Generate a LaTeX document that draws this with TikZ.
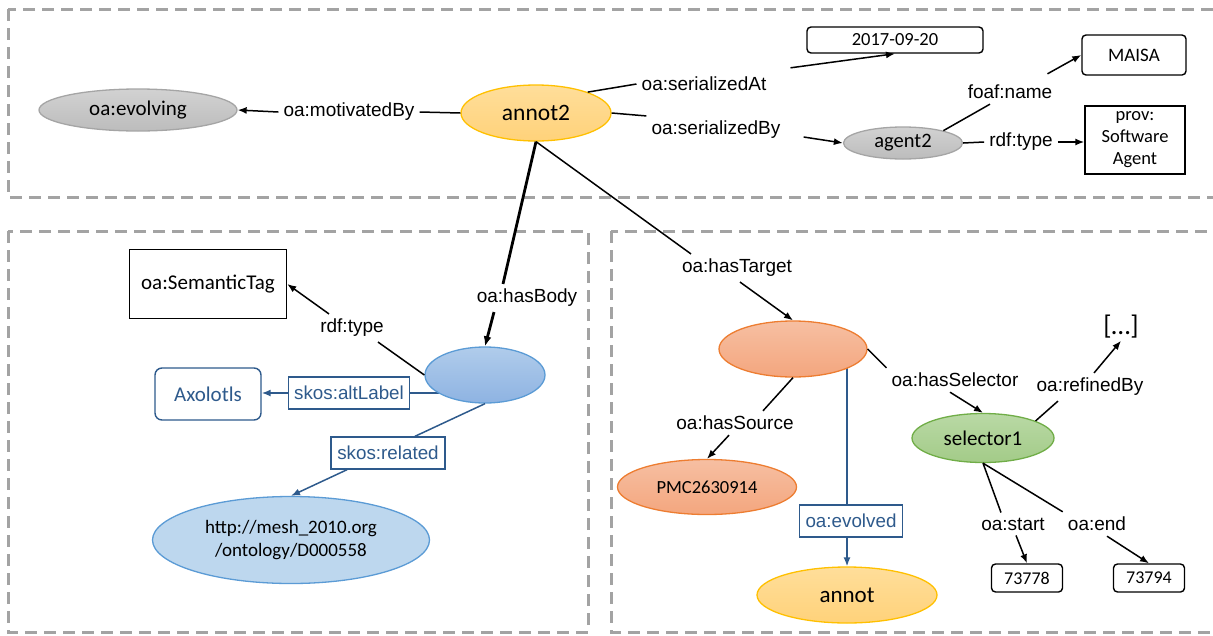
\documentclass[tikz,border=0pt]{standalone}
\usepackage{fontspec}
\setmainfont{Carlito}
\newfontfamily\arialf{Liberation Sans}
\usetikzlibrary{shapes.geometric,arrows.meta}
\pgfdeclarelayer{bg}
\pgfsetlayers{bg,main}
\newcommand\myfs[1]{\fontsize{#1}{#1}\selectfont}
\definecolor{dashgray}{HTML}{A3A3A3}
\definecolor{gtop}{HTML}{D2D2D2}
\definecolor{gbot}{HTML}{BCBCBC}
\definecolor{gborder}{HTML}{A5A5A5}
\definecolor{ytop}{HTML}{FFDE9A}
\definecolor{ybot}{HTML}{FFD27A}
\definecolor{yborder}{HTML}{FFC000}
\definecolor{stop}{HTML}{F6BFA2}
\definecolor{sbot}{HTML}{F4A67E}
\definecolor{sborder}{HTML}{ED7D31}
\definecolor{grtop}{HTML}{B9D9A5}
\definecolor{grbot}{HTML}{A3CB88}
\definecolor{grborder}{HTML}{70AD47}
\definecolor{btop}{HTML}{B0CCEB}
\definecolor{bbot}{HTML}{8EB3E2}
\definecolor{bborder}{HTML}{5B9BD5}
\definecolor{lblue}{HTML}{BDD7EE}
\definecolor{bdark}{HTML}{2E5A8C}
\begin{document}
\begin{tikzpicture}[x=1pt,y=-1pt,
  every node/.style={inner sep=0pt, text=black},
  ell/.style={ellipse, line width=1.3pt},
  grayell/.style={ell, draw=gborder, top color=gtop, bottom color=gbot},
  yell/.style={ell, draw=yborder, top color=ytop, bottom color=ybot},
  sell/.style={ell, draw=sborder, top color=stop, bottom color=sbot},
  grell/.style={ell, draw=grborder, top color=grtop, bottom color=grbot},
  bell/.style={ell, draw=bborder, top color=btop, bottom color=bbot},
  rbox/.style={draw, rectangle, rounded corners=4pt, line width=1.4pt, fill=white},
  sbox/.style={draw, rectangle, line width=1.4pt, fill=white},
  blbl/.style={draw=bdark, rectangle, line width=1.4pt, fill=white, text=bdark, font=\arialf\myfs{18.8}},
  lbl/.style={font=\arialf\myfs{19}, inner sep=5pt},
  conn/.style={line width=1.5pt, draw=black},
  arr/.style={conn, -{Latex[length=9pt,width=7pt]}},
  thickc/.style={line width=2.8pt, draw=black},
  thickarr/.style={thickc, -{Latex[length=10pt,width=8pt]}},
  blueline/.style={line width=1.5pt, draw=bdark},
  bluearr/.style={blueline, -{Latex[length=9pt,width=7pt]}},
  dbox/.style={draw=dashgray, line width=3pt, dash pattern=on 12pt off 7pt}
]
\useasboundingbox (0,0) rectangle (1213,635);
\clip (0,0) rectangle (1213,635);
% dashed regions
\draw[dbox] (8,9) rectangle (1230,197);
\draw[dbox] (8,231) rectangle (588,632);
\draw[dbox] (611,231) rectangle (1230,632);

% top region nodes
\node[grayell, minimum width=198pt, minimum height=42pt, font=\myfs{21}] (evolving) at (138,110) {oa:evolving};
\node[yell, minimum width=150pt, minimum height=56pt, font=\myfs{23.5}] (annot2) at (536,113) {annot2};
\node[rbox, minimum width=176pt, minimum height=26pt, font=\myfs{18.5}] (date) at (895,40) {2017-09-20};
\node[rbox, minimum width=104pt, minimum height=40pt, font=\myfs{19}] (maisa) at (1134,55) {MAISA};
\node[grayell, minimum width=119pt, minimum height=32pt, font=\myfs{20.5}] (agent2) at (903,143) {agent2};
\node[sbox, minimum width=100pt, minimum height=68pt, align=center, font=\fontsize{18.5}{22}\selectfont] (prov) at (1135,140) {prov:\\Software\\Agent};

\node[lbl] (lmot) at (349,112) {oa:motivatedBy};
\node[lbl] (lserAt) at (704,84) {oa:serializedAt};
\node[lbl] (lserBy) at (716,130) {oa:serializedBy};
\node[lbl] (lfoaf) at (1010,92) {foaf:name};
\node[lbl] (lrdfa) at (1021,142) {rdf:type};

% left region nodes
\node[sbox, minimum width=157pt, minimum height=69pt, font=\myfs{21}] (semtag) at (208,284) {oa:SemanticTag};
\node[bell, minimum width=120pt, minimum height=56pt] (body) at (485,375) {};
\node[rbox, draw=bdark, rounded corners=7pt, minimum width=106pt, minimum height=52pt, text=bdark, font=\myfs{21}] (axo) at (208,394) {Axolotls};
\node[blbl, minimum width=121pt, minimum height=32pt] (alt) at (349,393) {skos:altLabel};
\node[blbl, minimum width=114pt, minimum height=32pt] (related) at (388,453) {skos:related};
\node[ell, draw=bborder, fill=lblue, minimum width=277pt, minimum height=87pt, align=center, font=\fontsize{19}{23}\selectfont] (mesh) at (291,540) {http://mesh\_2010.org\\/ontology/D000558};
\node[lbl] (lbody) at (527,298) {oa:hasBody};
\node[lbl] (lrdfb) at (352,328) {rdf:type};

% right region nodes
\node[sell, minimum width=148pt, minimum height=56pt] (target) at (793,349) {};
\node[sell, minimum width=179pt, minimum height=55pt, font=\myfs{18.5}] (pmc) at (707,487) {PMC2630914};
\node[blbl, minimum width=103pt, minimum height=32pt] (evolved) at (851,521) {oa:evolved};
\node[yell, minimum width=180pt, minimum height=56pt, font=\myfs{23}] (annot) at (847,595) {annot};
\node[grell, minimum width=142pt, minimum height=49pt, font=\myfs{21}] (sel) at (983,438) {selector1};
\node[font=\myfs{27}, inner sep=2pt] (dots) at (1121,327) {[…]};
\node[rbox, minimum width=71pt, minimum height=28pt, font=\myfs{18}] (na) at (1027,578) {73778};
\node[rbox, minimum width=71pt, minimum height=28pt, font=\myfs{18}] (nb) at (1149,578) {73794};

\node[lbl] (ltarget) at (737,268) {oa:hasTarget};
\node[lbl] (lsource) at (735,423) {oa:hasSource};
\node[lbl] (lsel) at (955,380) {oa:hasSelector};
\node[lbl] (lref) at (1090,387) {oa:refinedBy};
\node[lbl] (lstart) at (1013,524) {oa:start};
\node[lbl] (lend) at (1097,524) {oa:end};

% connectors top
\draw[conn] (annot2.west) -- (lmot.east);
\draw[arr] (lmot.west) -- (evolving.east);
\draw[conn] (annot2.22) -- (lserAt.west);
\draw[arr] ([xshift=19pt,yshift=4pt]lserAt.north east) -- (date.south);
\draw[conn] (annot2.east) -- (lserBy.north west);
\draw[arr] ([xshift=18pt,yshift=-7pt]lserBy.east) -- (agent2.west);
\draw[conn] (agent2.17) -- ([xshift=-20pt]lfoaf.south);
\draw[arr] ([xshift=-10pt,yshift=6pt]lfoaf.north east) -- (maisa.west);
\draw[conn] (agent2.east) -- (lrdfa.west);
\draw[arr] (lrdfa.east) -- (prov.west |- lrdfa.east);

% connectors from annot2 downward
\draw[thickc] (annot2.south) -- ([xshift=-24pt]lbody.north);
\draw[thickarr] ([xshift=-33pt]lbody.south) -- (body.north);
\draw[conn] (annot2.south) -- ([xshift=-46pt]ltarget.north);
\draw[arr] ([xshift=3pt]ltarget.south) -- (target.north);

% left connectors
\draw[conn] (body.west) -- ([xshift=26pt]lrdfb.south);
\draw[arr] ([xshift=-23pt]lrdfb.north) -- (semtag.east);
\begin{pgfonlayer}{bg}
\draw[blueline] (alt.east) -- (alt.east -| body.center);
\draw[blueline] (annot.north |- evolved.north) -- (annot.north |- target.center);
\end{pgfonlayer}
\draw[bluearr] (alt.west) -- (alt.west -| axo.east);
\draw[blueline] (body.south) -- ([xshift=27pt]related.north);
\draw[bluearr] ([xshift=-41pt]related.south) -- (mesh.north);

% right connectors
\draw[conn] (target.south) -- ([xshift=28pt]lsource.north);
\draw[arr] ([xshift=-6pt]lsource.south) -- (pmc.north);
\draw[bluearr] (annot.north |- evolved.south) -- (annot.north);
\draw[conn] (target.east) -- (lsel.north west);
\draw[arr] ([xshift=-5pt]lsel.south) -- (sel.north);
\draw[conn] (sel.18) -- ([xshift=-32pt]lref.south);
\draw[arr] ([xshift=4pt]lref.north) -- (dots.south);
\draw[conn] (sel.south) -- ([xshift=-12pt]lstart.north);
\draw[arr] ([xshift=3pt]lstart.south) -- (na.north);
\draw[conn] (sel.south) -- (lend.north west);
\draw[arr] ([xshift=10pt]lend.south) -- (nb.north);
\end{tikzpicture}
\end{document}
